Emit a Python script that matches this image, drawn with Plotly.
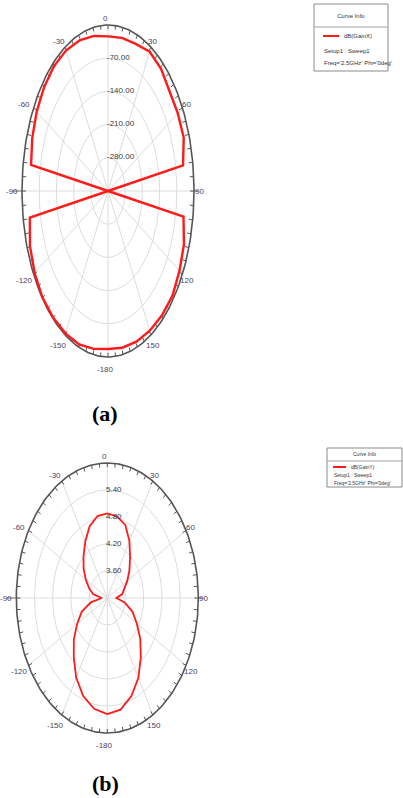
import numpy as np
import plotly.graph_objects as go

W, H = 403, 798

# ---------------- data ----------------
theta_deg = list(range(-180, 181, 10))

# (a) dB(GainX), Phi = 0deg
gain_a = [-17, -12, -6, -3.5, -2, -1, -5, -12, -27, -350,
          -32, -22, -15, -10, -7, -8, -12, -18,
          -24,
          -22, -20, -11, -14, -23, -22, -22, -40, -350,
          -38, -21, -14, -7, -8, -10, -12, -14.5, -17]

# (b) dB(GainY), Phi = 0deg
gain_b = [5.58, 5.50, 5.32, 5.05, 4.72, 4.44, 4.15, 3.90, 3.55, 3.18,
          3.47, 3.64, 3.82, 4.02, 4.22, 4.45, 4.70, 4.85,
          4.88,
          4.84, 4.73, 4.46, 4.17, 3.95, 3.76, 3.60, 3.50, 3.30,
          3.58, 3.88, 4.12, 4.42, 4.72, 5.05, 5.32, 5.52, 5.58]

range_a = (-350.0, 0.0)
range_b = (3.0, 6.0)
ring_values_a = [-280.0, -210.0, -140.0, -70.0]
ring_values_b = [3.60, 4.20, 4.80, 5.40]
angle_labels = [0, 30, 60, 90, 120, 150, 180, -150, -120, -90, -60, -30]
legend_a = ["Curve Info", "dB(GainX)", "Setup1 : Sweep1", "Freq='2.5GHz' Phi='0deg'"]
legend_b = ["Curve Info", "dB(GainY)", "Setup1 : Sweep1", "Freq='2.5GHz' Phi='0deg'"]
panel_labels = ["(a)", "(b)"]

# ---------------- style / geometry ----------------
FONT = "Liberation Sans Narrow, Arial Narrow, Liberation Sans, Arial, sans-serif"
LBL_COLOR = "#4a4262"
GRID = "#dcdcdc"
RING = "#555555"
R = 1.15  # axis half-range in normalized units

# panel geometry in pixels: centre x, centre y, half-width, half-height
geo = {
    "a": dict(cx=108.0, cy=191.0, a=86.0, b=166.0),
    "b": dict(cx=107.3, cy=598.0, a=91.0, b=135.0),
}


def px(x):
    return x / W


def py(y):
    return 1 - y / H


def project(theta, vals, rng):
    t = np.radians(np.asarray(theta, dtype=float))
    rn = np.clip((np.asarray(vals, dtype=float) - rng[0]) / (rng[1] - rng[0]), 0, 1)
    return rn * np.sin(t), rn * np.cos(t)


fig = go.Figure()
annotations = []
shapes = []


def add_panel(key, xa, ya, values, rng, ring_vals, fmt):
    g = geo[key]
    # rings
    tt = np.linspace(0, 2 * np.pi, 241)
    gx, gy = [], []
    for rv in ring_vals:
        rn = (rv - rng[0]) / (rng[1] - rng[0])
        gx += list(rn * np.sin(tt)) + [None]
        gy += list(rn * np.cos(tt)) + [None]
    # spokes every 30 deg
    for ang in range(0, 180, 30):
        t = np.radians(ang)
        gx += [-np.sin(t), np.sin(t), None]
        gy += [-np.cos(t), np.cos(t), None]
    fig.add_trace(go.Scatter(x=gx, y=gy, mode="lines", line=dict(color=GRID, width=1),
                             hoverinfo="skip", showlegend=False, xaxis=xa, yaxis=ya))
    # small outward extension of the +-90 line
    fig.add_trace(go.Scatter(x=[-1.0 - 9 / g["a"], -1.0, None, 1.0, 1.0 + 4 / g["a"]],
                             y=[0, 0, None, 0, 0], mode="lines",
                             line=dict(color="#666666", width=1), hoverinfo="skip",
                             showlegend=False, xaxis=xa, yaxis=ya))
    # outer ring
    fig.add_trace(go.Scatter(x=np.sin(tt), y=np.cos(tt), mode="lines",
                             line=dict(color=RING, width=1.6), hoverinfo="skip",
                             showlegend=False, xaxis=xa, yaxis=ya))
    # ticks every 5 deg (inward, ~4px)
    tx, ty = [], []
    for ang in range(0, 360, 5):
        t = np.radians(ang)
        s, c = np.sin(t), np.cos(t)
        L = 4.0
        tx += [s, s - L * s / g["a"], None]
        ty += [c, c - L * c / g["b"], None]
    fig.add_trace(go.Scatter(x=tx, y=ty, mode="lines", line=dict(color=RING, width=1),
                             hoverinfo="skip", showlegend=False, xaxis=xa, yaxis=ya))
    # data curve
    x, y = project(theta_deg, values, rng)
    fig.add_trace(go.Scatter(x=x, y=y, mode="lines",
                             line=dict(color="#ff1a1a", width=2.4 if key == "a" else 1.8),
                             hoverinfo="skip", showlegend=False, xaxis=xa, yaxis=ya))
    # angle labels
    xr = "x" if xa == "x" else "x2"
    yr = "y" if ya == "y" else "y2"
    for lab in angle_labels:
        t = np.radians(lab)
        s, c = np.sin(t), np.cos(t)
        xs = 8 * s - 2.5
        ys = 7 * c - 5 * max(0.0, -c)
        text = "-180" if lab == 180 else str(lab)
        annotations.append(dict(x=s, y=c, xref=xr, yref=yr, text=text, showarrow=False,
                                xanchor="center", yanchor="middle", xshift=xs, yshift=ys,
                                font=dict(family=FONT, size=8, color=LBL_COLOR)))
    # ring labels
    for rv in ring_vals:
        rn = (rv - rng[0]) / (rng[1] - rng[0])
        annotations.append(dict(x=0, y=rn, xref=xr, yref=yr, text=fmt(rv), showarrow=False,
                                xanchor="left", yanchor="middle", xshift=-3, yshift=1,
                                font=dict(family=FONT, size=8, color="#3a3a3a")))


add_panel("a", "x", "y", gain_a, range_a, ring_values_a, lambda v: f"{v:.2f}")
add_panel("b", "x2", "y2", gain_b, range_b, ring_values_b, lambda v: f"{v:.2f}")


def axis_domains(key):
    g = geo[key]
    x0 = g["cx"] - R * g["a"]
    x1 = g["cx"] + R * g["a"]
    ytop = g["cy"] - R * g["b"]
    ybot = g["cy"] + R * g["b"]
    return [px(x0), px(x1)], [py(ybot), py(ytop)]


dxa, dya = axis_domains("a")
dxb, dyb = axis_domains("b")
ax_common = dict(range=[-R, R], visible=False, showgrid=False, zeroline=False, fixedrange=True)


def legend_box(x0, y0, x1, y1, ydiv, yhead, yline, yset, yfreq, lx0, lx1, labels, fs):
    shapes.append(dict(type="rect", xref="paper", yref="paper", x0=px(x0), x1=px(x1),
                       y0=py(y1), y1=py(y0), line=dict(color="#8a8a8a", width=1),
                       fillcolor="white"))
    shapes.append(dict(type="line", xref="paper", yref="paper", x0=px(x0), x1=px(x1),
                       y0=py(ydiv), y1=py(ydiv), line=dict(color="#a0a0a0", width=1)))
    shapes.append(dict(type="line", xref="paper", yref="paper", x0=px(lx0), x1=px(lx1),
                       y0=py(yline), y1=py(yline), line=dict(color="#ff1a1a", width=2)))
    f = dict(family=FONT, size=fs, color="#333333")
    annotations.append(dict(x=px((x0 + x1) / 2), y=py(yhead), xref="paper", yref="paper",
                            text=labels[0], showarrow=False, xanchor="center",
                            yanchor="middle", font=f))
    annotations.append(dict(x=px(lx1 + 3), y=py(yline), xref="paper", yref="paper",
                            text=labels[1], showarrow=False, xanchor="left",
                            yanchor="middle", font=f))
    annotations.append(dict(x=px(lx0 - 1), y=py(yset), xref="paper", yref="paper",
                            text=labels[2], showarrow=False, xanchor="left",
                            yanchor="middle", font=f))
    annotations.append(dict(x=px(lx0 - 1), y=py(yfreq), xref="paper", yref="paper",
                            text=labels[3], showarrow=False, xanchor="left",
                            yanchor="middle", font=f))


legend_box(314, 4, 388, 71, 27, 16, 36, 51, 63, 323, 339, legend_a, 6)
legend_box(327, 448, 402, 487, 461, 454, 467, 475, 483, 333, 346, legend_b, 5)

for lab, (xc, yc) in zip(panel_labels, [(105.5, 413), (105.5, 783)]):
    annotations.append(dict(x=px(xc), y=py(yc), xref="paper", yref="paper", text=f"<b>{lab}</b>",
                            showarrow=False, xanchor="center", yanchor="middle",
                            font=dict(family="Liberation Serif, Times New Roman, serif",
                                      size=22, color="black")))

fig.update_layout(
    width=W, height=H, margin=dict(l=0, r=0, t=0, b=0),
    paper_bgcolor="white", plot_bgcolor="rgba(0,0,0,0)",
    xaxis=dict(domain=dxa, anchor="y", **ax_common),
    yaxis=dict(domain=dya, anchor="x", **ax_common),
    xaxis2=dict(domain=dxb, anchor="y2", **ax_common),
    yaxis2=dict(domain=dyb, anchor="x2", **ax_common),
    annotations=annotations, shapes=shapes, showlegend=False,
    hovermode=False,
)

fig.write_html(
    "out.html",
    config={"displayModeBar": False, "staticPlot": True},
    post_script="document.body.style.margin='0';document.body.style.padding='0';"
                "document.body.style.overflow='hidden';",
)
